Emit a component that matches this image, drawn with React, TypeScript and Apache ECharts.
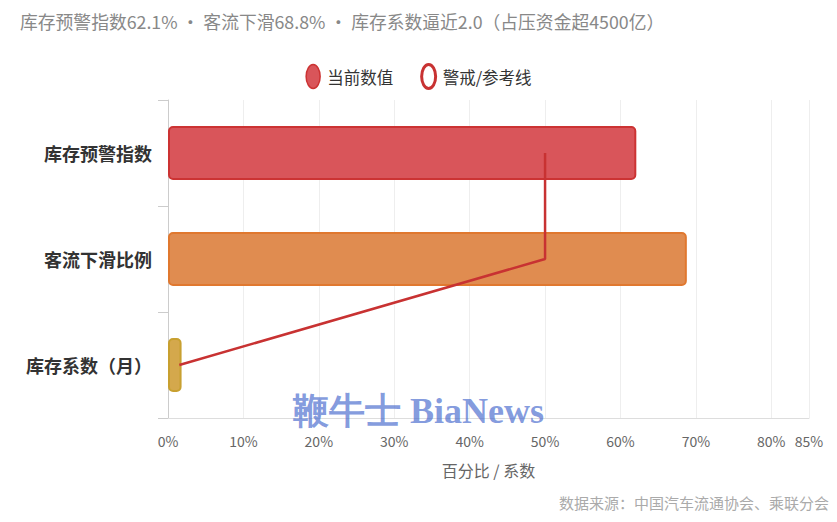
import React, { useEffect, useRef } from "react";
import * as echarts from "echarts";

const categories = ["库存预警指数", "客流下滑比例", "库存系数（月）"];
const currentValues = [62.1, 68.8, 1.8];
const warningValues = [50, 50, 1.5];
const barFills = ["#d9555a", "#e08c50", "#d4a84c"];
const barBorders = ["#cc3333", "#e0782f", "#c8a030"];
const titleText = "库存预警指数62.1% · 客流下滑68.8% · 库存系数逼近2.0（占压资金超4500亿）";
const sourceText = "数据来源：中国汽车流通协会、乘联分会";
const ellipseIcon = "path://M7,0 A7,12 0 1,1 7,24 A7,12 0 1,1 7,0 Z";

export default function App() {
  const ref = useRef<HTMLDivElement>(null);
  useEffect(() => {
    if (!ref.current) return;
    const chart = echarts.init(ref.current, null, { renderer: "svg" });
    const font = "'Noto Sans CJK SC', 'Noto Sans', sans-serif";
    chart.setOption({
      animation: false,
      textStyle: { fontFamily: font },
      title: {
        text: titleText,
        left: 12,
        top: 3,
        padding: 0,
        textStyle: { fontSize: 17.8, lineHeight: 20, fontWeight: "normal", color: "#888", fontFamily: font },
      },
      legend: {
        top: 50,
        left: "center",
        itemWidth: 14,
        itemHeight: 24,
        itemGap: 27,
        symbolKeepAspect: false,
        textStyle: { fontSize: 16.5, color: "#333", fontFamily: font, padding: [0, 0, 0, 2] },
        data: [
          {
            name: "当前数值",
            icon: ellipseIcon,
            itemStyle: { color: "#d9555a", borderColor: "#cc3333", borderWidth: 1.5 },
          },
          {
            name: "警戒/参考线",
            icon: ellipseIcon,
            itemStyle: { color: "#ffffff", borderColor: "#c83232", borderWidth: 3 },
          },
        ],
      },
      grid: { left: 160, right: 20, top: 92, bottom: 96, containLabel: false },
      xAxis: {
        type: "value",
        min: 0,
        max: 85,
        interval: 10,
        name: "百分比 / 系数",
        nameLocation: "middle",
        nameGap: 44,
        nameTextStyle: { fontSize: 16, color: "#666", fontFamily: font },
        axisLine: { show: true, lineStyle: { color: "#dddddd" } },
        axisTick: { show: false },
        axisLabel: { formatter: "{value}%", fontSize: 14, color: "#666", margin: 16, fontFamily: font },
        splitLine: { show: true, lineStyle: { color: "#eeeeee" } },
      },
      yAxis: {
        type: "category",
        inverse: true,
        data: categories,
        axisLine: { show: true, lineStyle: { color: "#cccccc" } },
        axisTick: { show: true, length: 10, lineStyle: { color: "#cccccc" } },
        axisLabel: { fontSize: 18, fontWeight: "bold", color: "#333", margin: 16, fontFamily: font },
        splitLine: { show: false },
      },
      series: [
        {
          name: "当前数值",
          type: "bar",
          barWidth: 54,
          z: 2,
          itemStyle: { color: "#d9555a", borderColor: "#cc3333", borderWidth: 2 },
          data: currentValues.map((v, i) => ({
            value: v,
            itemStyle: {
              color: barFills[i],
              borderColor: barBorders[i],
              borderWidth: 2,
              borderRadius: 4,
            },
          })),
        },
        {
          name: "警戒/参考线",
          type: "line",
          z: 5,
          showSymbol: false,
          symbol: "none",
          lineStyle: { color: "#c83232", width: 2.5 },
          itemStyle: { color: "#c83232" },
          data: warningValues,
        },
      ],
      graphic: [
        {
          type: "text",
          left: "center",
          top: 385,
          z: 100,
          style: {
            text: "鞭牛士 BiaNews",
            fill: "rgba(70,105,205,0.68)",
            font: "bold 36px 'Liberation Serif', 'DejaVu Serif', serif",
          },
        },
        {
          type: "text",
          right: 0,
          bottom: 4,
          style: {
            text: sourceText,
            fill: "#aaaaaa",
            font: "15px 'Noto Sans CJK SC', sans-serif",
          },
        },
      ],
    });
    return () => chart.dispose();
  }, []);
  return <div ref={ref} style={{ width: 821, height: 506 }} />;
}
